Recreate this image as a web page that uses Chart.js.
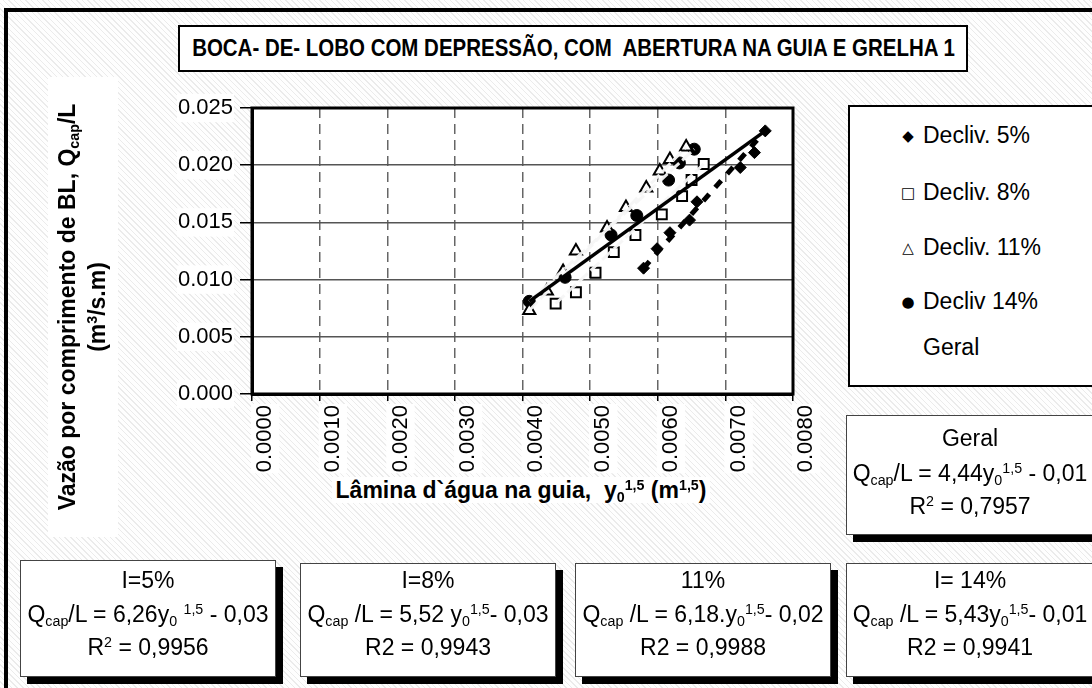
<!DOCTYPE html>
<html><head><meta charset="utf-8">
<script src="https://cdn.jsdelivr.net/npm/chart.js@4.4.1/dist/chart.umd.min.js"></script>
<style>
html,body{margin:0;padding:0;}
body{width:1092px;height:688px;position:relative;overflow:hidden;font-family:"Liberation Sans",Arial,sans-serif;color:#000;
background:repeating-linear-gradient(45deg,#ebebeb 0px,#ebebeb 1px,#fefefe 1px,#fefefe 4px);}
#frame{position:absolute;left:4px;top:8px;width:1200px;height:800px;border-left:4px solid #000;border-top:4px solid #000;}
canvas{position:absolute;left:0;top:0;}
.box{position:absolute;background:#fff;box-sizing:border-box;}
.title{left:178px;top:25px;width:790px;height:47px;border:2px solid #000;display:flex;align-items:center;justify-content:center;}
.title span{font-weight:bold;font-size:23px;white-space:pre;display:inline-block;transform:scaleX(0.89);}
.legend{left:848px;top:105px;width:260px;height:282px;border:2px solid #000;}
.eq{border:1px solid #444;box-shadow:7px 7px 0 #000;}
.ln{position:absolute;left:-30px;right:-30px;text-align:center;font-size:23px;white-space:nowrap;line-height:26px;}
.lg{position:absolute;left:73px;font-size:23px;white-space:nowrap;line-height:26px;}
.mk{position:absolute;left:-23px;top:1px;width:16px;text-align:center;font-family:"DejaVu Sans";font-size:15px;}
sub,sup{font-size:62%;line-height:0;position:relative;vertical-align:baseline;}
sub{top:0.3em;} sup{top:-0.55em;}
#ytitle{position:absolute;left:-147px;top:272px;width:460px;height:70px;transform:rotate(-90deg);transform-origin:50% 50%;background:#fff;font-weight:bold;font-size:23px;text-align:center;line-height:30px;padding-top:4px;box-sizing:border-box;white-space:nowrap;}
#xtitle{position:absolute;left:291px;top:474px;width:460px;height:32px;font-weight:bold;font-size:23px;text-align:center;line-height:32px;white-space:nowrap;}
#xtitle span{background:#fff;padding:0 4px;}
</style></head>
<body>
<div id="frame"></div>
<canvas id="c" width="1092" height="688"></canvas>
<div class="box title"><span>BOCA- DE- LOBO COM DEPRESSÃO, COM  ABERTURA NA GUIA E GRELHA 1</span></div>
<div class="box legend">
  <div class="lg" style="top:15px"><span class="mk">◆</span>Decliv. 5%</div>
  <div class="lg" style="top:72px"><span class="mk">□</span>Decliv. 8%</div>
  <div class="lg" style="top:127px"><span class="mk">△</span>Decliv. 11%</div>
  <div class="lg" style="top:181px"><span class="mk">●</span>Decliv 14%</div>
  <div class="lg" style="top:227px">Geral</div>
</div>
<div class="box eq" style="left:846px;top:415px;width:248px;height:120px;">
  <div class="ln" style="top:9px">Geral</div>
  <div class="ln" style="top:44px">Q<sub>cap</sub>/L = 4,44y<sub>0</sub><sup>1,5</sup> - 0,01</div>
  <div class="ln" style="top:77px">R<sup>2</sup> = 0,7957</div>
</div>
<div class="box eq" style="left:20px;top:560px;width:256px;height:117px;">
  <div class="ln" style="top:6px">I=5%</div>
  <div class="ln" style="top:40px">Q<sub>cap</sub>/L = 6,26y<sub>0</sub> <sup>1,5</sup> - 0,03</div>
  <div class="ln" style="top:73px">R<sup>2</sup> = 0,9956</div>
</div>
<div class="box eq" style="left:300px;top:563px;width:256px;height:114px;">
  <div class="ln" style="top:3px">I=8%</div>
  <div class="ln" style="top:37px">Q<sub>cap</sub> /L = 5,52 y<sub>0</sub><sup>1,5</sup>- 0,03</div>
  <div class="ln" style="top:70px">R2 = 0,9943</div>
</div>
<div class="box eq" style="left:575px;top:563px;width:256px;height:114px;">
  <div class="ln" style="top:3px">11%</div>
  <div class="ln" style="top:37px">Q<sub>cap</sub> /L = 6,18.y<sub>0</sub><sup>1,5</sup>- 0,02</div>
  <div class="ln" style="top:70px">R2 = 0,9988</div>
</div>
<div class="box eq" style="left:846px;top:563px;width:248px;height:114px;">
  <div class="ln" style="top:3px">I= 14%</div>
  <div class="ln" style="top:37px">Q<sub>cap</sub> /L = 5,43y<sub>0</sub><sup>1,5</sup>- 0,01</div>
  <div class="ln" style="top:70px">R2 = 0,9941</div>
</div>
<div id="ytitle">Vazão por comprimento de BL, Q<sub>cap</sub>/L<br>(m<sup>3</sup>/s.m)</div>
<div id="xtitle"><span>Lâmina d`água na guia,&nbsp; y<sub>0</sub><sup>1,5</sup> (m<sup>1,5</sup>)</span></div>
<script>
const slope5X = [0.00579,0.00599,0.00618,0.00647,0.00658,0.00722,0.00743,0.00759];
const slope5Y = [0.0110,0.0127,0.0141,0.0152,0.0168,0.0198,0.0211,0.0230];
const slope8X = [0.00449,0.00479,0.00508,0.00535,0.00567,0.00606,0.00636,0.00650,0.00668];
const slope8Y = [0.0079,0.0089,0.0106,0.0124,0.0139,0.0157,0.0173,0.0187,0.0201];
const slope11X = [0.00410,0.00436,0.00460,0.00479,0.00525,0.00553,0.00583,0.00603,0.00618,0.00642];
const slope11Y = [0.0073,0.0090,0.0107,0.0125,0.0145,0.0163,0.0180,0.0195,0.0205,0.0216];
const slope14X = [0.00410,0.00463,0.00531,0.00569,0.00616,0.00632,0.00654];
const slope14Y = [0.0081,0.0102,0.0139,0.0156,0.0187,0.0202,0.0214];
const trend5X = [0.00579,0.00759];
const trend5Y = [0.0110,0.0230];
const trend8X = [0.00449,0.00668];
const trend8Y = [0.0079,0.0201];
const trend11X = [0.00410,0.00642];
const trend11Y = [0.0073,0.0216];
const trend14X = [0.00410,0.00654];
const trend14Y = [0.0081,0.0214];
const geralX = [0.00410,0.00759];
const geralY = [0.0081,0.0230];
const xTicks = ['0.0000','0.0010','0.0020','0.0030','0.0040','0.0050','0.0060','0.0070','0.0080'];
const yTicks = ['0.000','0.005','0.010','0.015','0.020','0.025'];

const pts = (xs, ys) => xs.map((x, i) => ({x, y: ys[i]}));

const bgPlugin = {
  id: 'plotBg',
  beforeDraw(chart) {
    const {ctx, chartArea: a} = chart;
    ctx.save(); ctx.fillStyle = '#fff'; ctx.fillRect(a.left, a.top, a.right - a.left, a.bottom - a.top); ctx.restore();
  },
  afterDraw(chart) {
    const {ctx, chartArea: a} = chart;
    ctx.save(); ctx.strokeStyle = '#000'; ctx.lineWidth = 3;
    ctx.strokeRect(a.left, a.top, a.right - a.left, a.bottom - a.top); ctx.restore();
  }
};

const trendStyle = {showLine: true, pointRadius: 0, borderColor: 'rgba(245,245,245,0.95)', borderWidth: 3, borderDash: [12, 4], order: 1};

new Chart(document.getElementById('c'), {
  type: 'scatter',
  data: {
    datasets: [
      {label: 'Decliv. 5%', data: pts(slope5X, slope5Y), pointStyle: 'rectRot', pointRadius: 6, backgroundColor: '#000', borderColor: '#000', borderWidth: 1, order: 3},
      {label: 'Decliv. 8%', data: pts(slope8X, slope8Y), pointStyle: 'rect', pointRadius: 7, backgroundColor: '#fff', borderColor: '#000', borderWidth: 2, order: 3},
      {label: 'Decliv. 11%', data: pts(slope11X, slope11Y), pointStyle: 'triangle', pointRadius: 7, backgroundColor: '#fff', borderColor: '#000', borderWidth: 2, order: 3},
      {label: 'Decliv 14%', data: pts(slope14X, slope14Y), pointStyle: 'circle', pointRadius: 6, backgroundColor: '#000', borderColor: '#000', borderWidth: 1, order: 3},
      Object.assign({label: 't8', data: pts(trend8X, trend8Y)}, trendStyle),
      Object.assign({label: 't11', data: pts(trend11X, trend11Y)}, trendStyle),
      Object.assign({label: 't14', data: pts(trend14X, trend14Y)}, trendStyle),
      {label: 't5', data: pts(trend5X, trend5Y), showLine: true, pointRadius: 0, borderColor: '#000', borderWidth: 5, borderDash: [9, 9], order: 1},
      {label: 'Geral', data: pts(geralX, geralY), showLine: true, pointRadius: 0, borderColor: '#000', borderWidth: 3.5, order: 0}
    ]
  },
  options: {
    responsive: false, animation: false, devicePixelRatio: 1,
    layout: {padding: {left: 0, top: 108, right: 299, bottom: 0}},
    plugins: {legend: {display: false}, tooltip: {enabled: false}},
    scales: {
      x: {
        type: 'linear', min: 0, max: 0.008,
        afterFit: s => { s.height = 294; },
        afterBuildTicks: s => { s.ticks = xTicks.map(t => ({value: parseFloat(t)})); },
        ticks: {callback: (v, i) => xTicks[i], minRotation: 90, maxRotation: 90, color: '#000', padding: 4,
          font: {family: 'Liberation Sans', size: 22}, showLabelBackdrop: true, backdropColor: '#fff', backdropPadding: 1},
        grid: {color: '#666', lineWidth: 1.5, tickLength: 7, tickColor: '#000', tickWidth: 1.5},
        border: {display: true, color: '#000', width: 3, dash: [10, 6]}
      },
      y: {
        type: 'linear', min: 0, max: 0.025,
        afterFit: s => { s.width = 252; },
        afterBuildTicks: s => { s.ticks = yTicks.map(t => ({value: parseFloat(t)})); },
        ticks: {callback: (v, i) => yTicks[i], color: '#000', padding: 7,
          font: {family: 'Liberation Sans', size: 22}, showLabelBackdrop: true, backdropColor: '#fff', backdropPadding: 1},
        grid: {color: '#555', lineWidth: 1.5, tickLength: 12, tickColor: '#000', tickWidth: 1.5},
        border: {display: true, color: '#000', width: 3}
      }
    }
  },
  plugins: [bgPlugin]
});
</script>
</body></html>
